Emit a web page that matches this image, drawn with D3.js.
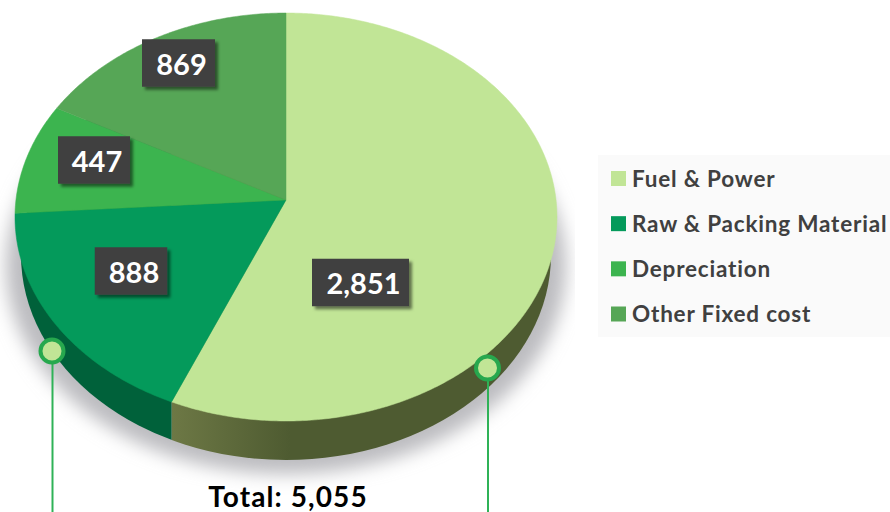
<!DOCTYPE html>
<html><head><meta charset="utf-8">
<script src="https://cdn.jsdelivr.net/npm/d3@7/dist/d3.min.js"></script>
<style>html,body{margin:0;padding:0;background:#fff}svg{display:block}</style>
</head><body><svg id="c" width="890" height="512"></svg>
<script>
const categories = ["Fuel & Power","Raw & Packing Material","Depreciation","Other Fixed cost"];
const values = [2851,888,447,869];
const valueLabels = ["2,851","888","447","869"];
const colors = ["#c1e596","#049a5b","#3cb44f","#56a656"];
const sideColors = ["#4e5b31","#00613a"];
const totalLabel = "Total: 5,055";
const labelCenters = [[360.5,282.5],[131,271],[94,160],[178.5,63]];
const markers = [[52,351],[487.5,368]];

const W=890,H=512;
const top_={cx:286,cy:217,rx:271,ry:204};
const bottom_={cx:286,cy:255,rx:265,ry:205};
const persp=17/204;

const svg=d3.select("#c");
const defs=svg.append("defs");
const blur=defs.append("filter").attr("id","blur").attr("x","-20%").attr("y","-20%").attr("width","140%").attr("height","140%");
blur.append("feGaussianBlur").attr("stdDeviation",9);
const ds=defs.append("filter").attr("id","boxShadow").attr("x","-20%").attr("y","-20%").attr("width","150%").attr("height","150%");
ds.append("feDropShadow").attr("dx",3).attr("dy",3).attr("stdDeviation",1.6).attr("flood-color","#000").attr("flood-opacity",0.5);
const grad=defs.append("linearGradient").attr("id","fuelSide").attr("gradientUnits","userSpaceOnUse").attr("x1",172).attr("x2",290).attr("y1",0).attr("y2",0);
grad.append("stop").attr("offset",0).attr("stop-color","#6d7845");
grad.append("stop").attr("offset",1).attr("stop-color",sideColors[0]);

const pie=d3.pie().sort(null).value(d=>d)(values);
// project a point of the pie's plane (angle clockwise from top, radius 0..1) to the tilted picture
function project(a,r){
  const X=r*Math.sin(a),Y=r*Math.cos(a);
  const d=1+persp*Y;
  const xp=X*Math.sqrt(1-persp*persp)/d, yp=(Y+persp)/d;
  return [top_.cx+top_.rx*xp, top_.cy-top_.ry*yp];
}
const line=d3.line();
function slicePath(s){
  const n=Math.ceil((s.endAngle-s.startAngle)/0.01);
  const pts=[project(0,0)];
  d3.range(n+1).forEach(i=>pts.push(project(s.startAngle+(s.endAngle-s.startAngle)*i/n,1)));
  return line(pts)+"Z";
}
const splitX=project(pie[0].endAngle,1)[0];

// shadow
const shadowClip=defs.append("clipPath").attr("id","sc");
shadowClip.append("rect").attr("x",0).attr("y",0).attr("width",575).attr("height",H);
svg.append("g").attr("clip-path","url(#sc)").append("ellipse")
  .attr("cx",286).attr("cy",266).attr("rx",280).attr("ry",208)
  .attr("fill","#bcbcc0").attr("filter","url(#blur)");

// side wall
defs.append("clipPath").attr("id","sideR").append("rect").attr("x",splitX).attr("y",0).attr("width",W).attr("height",H);
defs.append("clipPath").attr("id","sideL").append("rect").attr("x",0).attr("y",0).attr("width",splitX).attr("height",H);
function wall(clip,fill){
  svg.append("ellipse").attr("cx",bottom_.cx).attr("cy",bottom_.cy).attr("rx",bottom_.rx).attr("ry",bottom_.ry)
    .attr("fill",fill).attr("clip-path",`url(#${clip})`);
}
wall("sideR","url(#fuelSide)");
wall("sideL",sideColors[1]);

// top face
svg.append("g").selectAll("path").data(pie).join("path")
  .attr("d",slicePath).attr("fill",(d,i)=>colors[i]).attr("stroke",(d,i)=>colors[i]).attr("stroke-width",0.5);

// value labels
const boxH=47.5;
const boxW=[97,72.5,72,73];
const lab=svg.append("g").selectAll("g").data(valueLabels).join("g")
  .attr("transform",(d,i)=>`translate(${labelCenters[i][0]},${labelCenters[i][1]})`);
lab.append("rect").attr("x",(d,i)=>-boxW[i]/2).attr("y",-boxH/2).attr("width",(d,i)=>boxW[i]).attr("height",boxH)
  .attr("fill","#404040").attr("filter","url(#boxShadow)");
lab.append("text").text(d=>d).attr("text-anchor","middle").attr("x",3).attr("y",11.5)
  .attr("font-family","Lato").attr("font-weight",700).attr("font-size",29).attr("fill","#fff");

// leader markers
const mg=svg.append("g").selectAll("g").data(markers).join("g");
mg.append("line").attr("x1",d=>d[0]+0.5).attr("x2",d=>d[0]+0.5).attr("y1",d=>d[1]).attr("y2",H)
  .attr("stroke","#2fb257").attr("stroke-width",2);
mg.append("circle").attr("cx",d=>d[0]).attr("cy",d=>d[1]).attr("r",11.5)
  .attr("fill","#c1e596").attr("stroke","#27a84e").attr("stroke-width",4);

// total
svg.append("text").text(totalLabel).attr("x",288).attr("y",507).attr("text-anchor","middle")
  .attr("font-family","Lato").attr("font-weight",700).attr("font-size",28).attr("letter-spacing",1.1).attr("fill","#000");

// legend
svg.append("rect").attr("x",598).attr("y",155).attr("width",292).attr("height",182).attr("fill","#fafafa");
const rowY=d3.scalePoint().domain(categories).range([178.5,314]);
const lg=svg.append("g").selectAll("g").data(categories).join("g")
  .attr("transform",d=>`translate(611,${rowY(d)})`);
lg.append("rect").attr("x",0).attr("y",-7.5).attr("width",15).attr("height",15).attr("fill",(d,i)=>colors[i]);
lg.append("text").text(d=>d).attr("x",21).attr("y",8)
  .attr("font-family","Lato").attr("font-weight",700).attr("font-size",22.5).attr("letter-spacing",0.8).attr("fill","#404040");
</script></body></html>
